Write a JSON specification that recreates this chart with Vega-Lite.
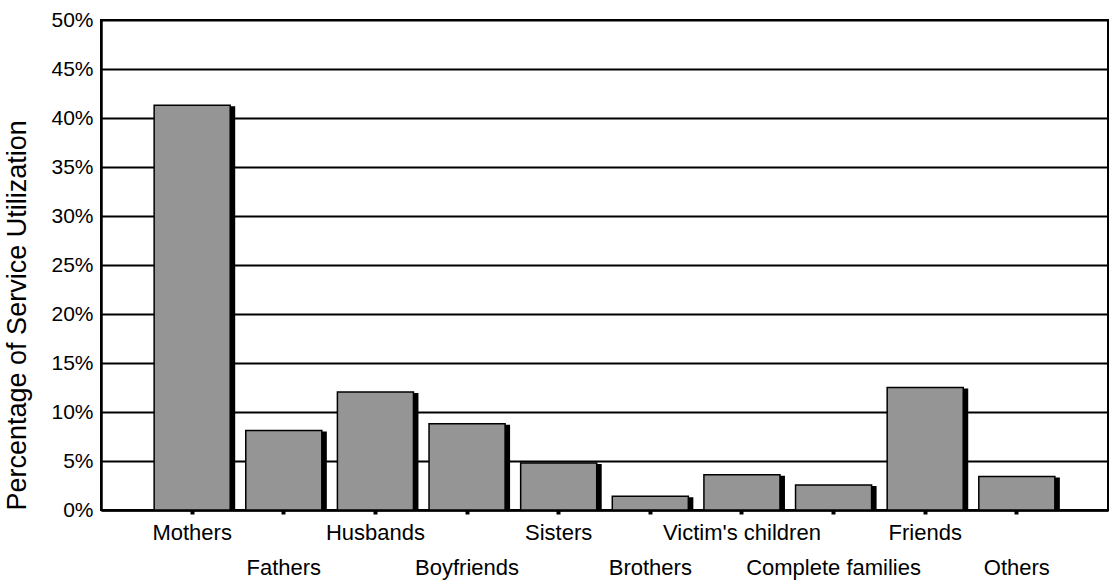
{
  "$schema": "https://vega.github.io/schema/vega-lite/v6.json",
  "autosize": {"type": "none"},
  "width": 1007,
  "height": 490,
  "padding": {"left": 101, "top": 20, "right": 1, "bottom": 72},
  "background": "white",
  "view": {"stroke": "black", "strokeWidth": 2},
  "config": {
    "font": "Liberation Sans",
    "axis": {"labelFont": "Liberation Sans", "titleFont": "Liberation Sans", "labelColor": "black", "titleColor": "black", "domainColor": "black", "tickColor": "black"}
  },
  "data": {
    "values": [
      {"group": "Mothers", "pct": 0.413},
      {"group": "Fathers", "pct": 0.081},
      {"group": "Husbands", "pct": 0.1205},
      {"group": "Boyfriends", "pct": 0.088},
      {"group": "Sisters", "pct": 0.048},
      {"group": "Brothers", "pct": 0.014},
      {"group": "Victim's children", "pct": 0.036},
      {"group": "Complete families", "pct": 0.0255},
      {"group": "Friends", "pct": 0.125},
      {"group": "Others", "pct": 0.0343}
    ]
  },
  "encoding": {
    "x": {
      "field": "group",
      "type": "nominal",
      "sort": null,
      "scale": {"paddingInner": 0.17, "paddingOuter": 0.58, "align": 0.5},
      "axis": {
        "title": null,
        "labelAngle": 0,
        "labelFontSize": 22,
        "labelPadding": 8,
        "labelBaseline": "top",
        "labelLineHeight": 35,
        "labelExpr": "indexof(['Fathers','Boyfriends','Brothers','Complete families','Others'], datum.value) >= 0 ? ['', datum.label] : datum.label",
        "tickSize": 4,
        "tickWidth": 4,
        "domainWidth": 2.5,
        "grid": false,
        "labelOverlap": false,
        "labelLimit": 0
      }
    },
    "y": {
      "field": "pct",
      "type": "quantitative",
      "scale": {"domain": [0, 0.5], "nice": false},
      "axis": {
        "title": "Percentage of Service Utilization",
        "titleFontSize": 27,
        "titleFontWeight": "normal",
        "titleAnchor": "start",
        "titlePadding": 19,
        "values": [0, 0.05, 0.1, 0.15, 0.2, 0.25, 0.3, 0.35, 0.4, 0.45, 0.5],
        "format": ".0%",
        "labelFontSize": 21,
        "labelPadding": 8,
        "tickSize": 0,
        "domainWidth": 2.5,
        "grid": true,
        "gridColor": "black",
        "gridWidth": 2,
        "gridOpacity": 1
      }
    }
  },
  "layer": [
    {"mark": {"type": "bar", "color": "black", "xOffset": 5, "yOffset": 1}},
    {"mark": {"type": "bar", "fill": "#959595", "stroke": "black", "strokeWidth": 1.5}}
  ]
}
